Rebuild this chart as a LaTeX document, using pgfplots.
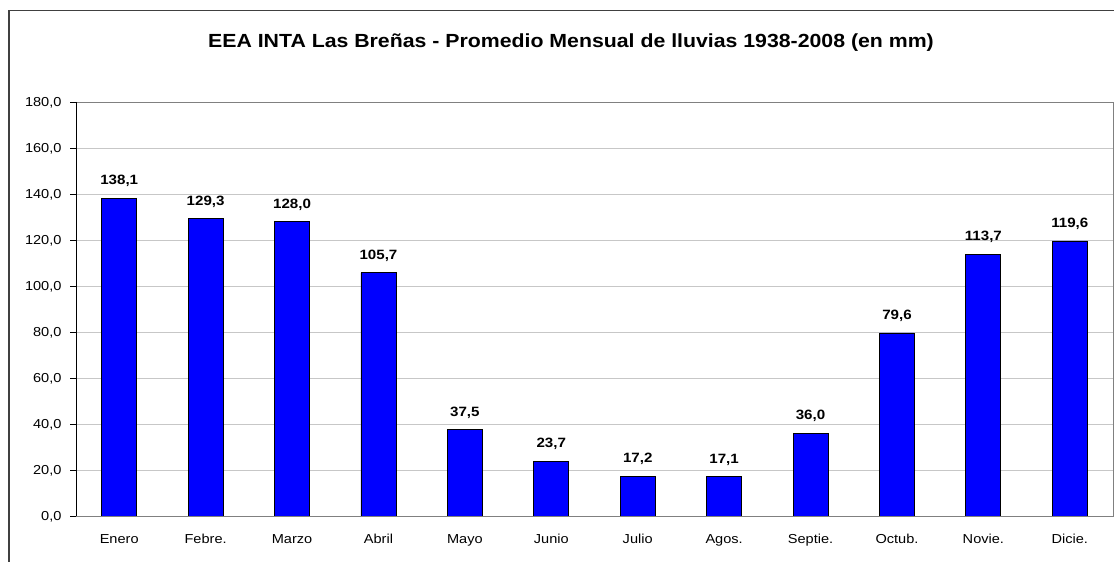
\documentclass[border=0pt]{standalone}
\usepackage{pgfplots}
\pgfplotsset{compat=1.18}
\usepackage{fontspec}
\setmainfont{Liberation Sans}[FakeStretch=1.12]
\begin{document}
\begin{tikzpicture}[x=1pt,y=1pt]
\useasboundingbox (0,0) rectangle (1114,562);
\draw[line width=1.5pt, color=black!75] (9,-10) -- (9,551.5) -- (1130,551.5);
\node[anchor=base, inner sep=0pt, font=\fontsize{19}{21}\selectfont\bfseries] at (571,514) {EEA INTA Las Breñas - Promedio Mensual de lluvias 1938-2008 (en mm)};
\begin{axis}[
  at={(76pt,46pt)}, anchor=south west, scale only axis,
  width=1037pt, height=414pt,
  ymin=0, ymax=180, ytick={0,20,...,180},
  xmin=-0.5, xmax=11.5,
  xtick={0,...,11},
  xticklabels={Enero,Febre.,Marzo,Abril,Mayo,Junio,Julio,Agos.,Septie.,Octub.,Novie.,Dicie.},
  minor xtick={-0.5,0.5,...,11.5},
  xtick style={draw=none},
  tick align=outside,
  major tick length=6pt, minor tick length=6pt,
  tick style={black, line width=0.8pt},
  ymajorgrids, grid style={color=black!22, line width=0.8pt},
  axis line style={color=black!50, line width=0.8pt},
  ybar, bar width=35pt,
  /pgf/number format/.cd, fixed, fixed zerofill, precision=1, use comma, assume math mode=true,
  /pgfplots/.cd,
  yticklabel style={font=\fontsize{13}{15}\selectfont, xshift=-5pt, yshift=-1pt},
  xticklabel style={font=\fontsize{13}{15}\selectfont, yshift=-9pt},
  nodes near coords,
  every node near coord/.append style={font=\fontsize{13.5}{15}\selectfont\bfseries, anchor=south, inner sep=0pt, yshift=11pt, color=black},
]
\addplot[draw=black, fill=blue, line width=0.8pt] coordinates {
(0,138.1) (1,129.3) (2,128.0) (3,105.7) (4,37.5) (5,23.7)
(6,17.2) (7,17.1) (8,36.0) (9,79.6) (10,113.7) (11,119.6)};
\draw[black, line width=0.8pt] (rel axis cs:0,1) -- (rel axis cs:0,0) -- (rel axis cs:1,0);
\end{axis}
\end{tikzpicture}
\end{document}
